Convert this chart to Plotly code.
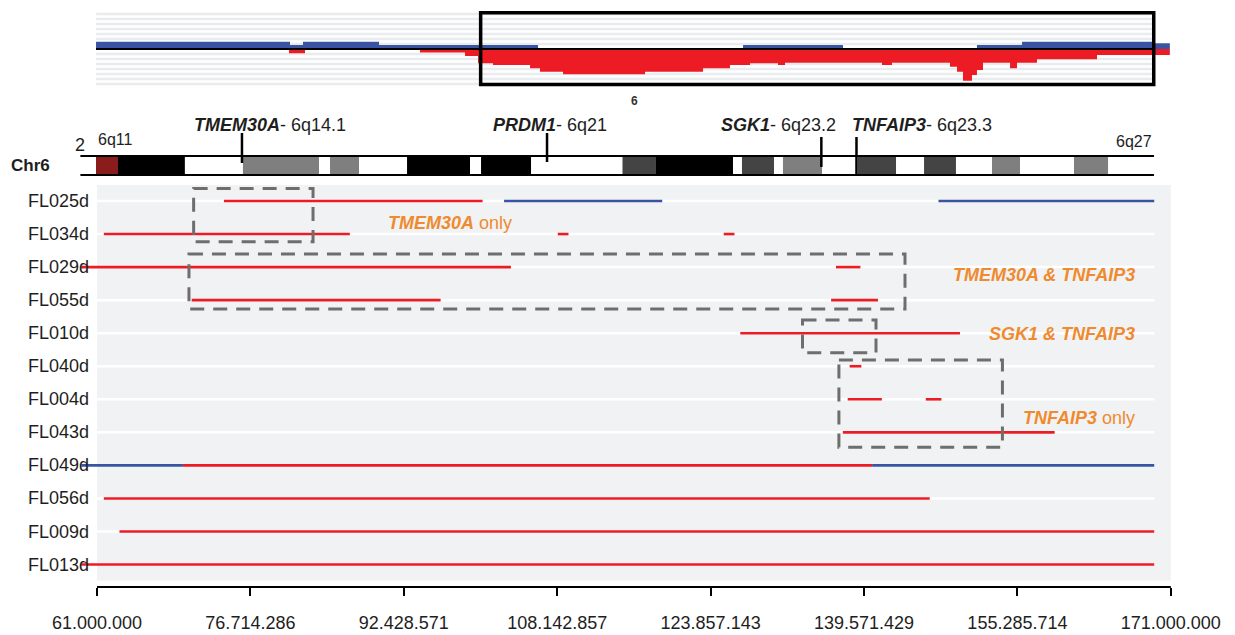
import plotly.graph_objects as go

W, H = 1235, 635

# ---------------- data ----------------
tick_vals = [61.0, 76.714286, 92.428571, 108.142857, 123.857143, 139.571429, 155.285714, 171.0]
tick_text = ["61.000.000", "76.714.286", "92.428.571", "108.142.857",
             "123.857.143", "139.571.429", "155.285.714", "171.000.000"]

samples = ["FL025d", "FL034d", "FL029d", "FL055d", "FL010d", "FL040d",
           "FL004d", "FL043d", "FL049d", "FL056d", "FL009d", "FL013d"]

seg_sample = ["FL025d", "FL025d", "FL025d",
              "FL034d", "FL034d", "FL034d",
              "FL029d", "FL029d",
              "FL055d", "FL055d",
              "FL010d",
              "FL040d",
              "FL004d", "FL004d",
              "FL043d",
              "FL049d", "FL049d", "FL049d",
              "FL056d",
              "FL009d",
              "FL013d"]
seg_start = [74.0, 102.7, 147.2,
             61.7, 108.2, 125.2,
             59.4, 136.7,
             70.7, 136.2,
             126.9,
             138.1,
             137.9, 145.9,
             137.4,
             59.4, 69.8, 140.4,
             61.7,
             63.3,
             59.4]
seg_end = [100.5, 118.9, 169.3,
           86.9, 109.3, 126.3,
           103.4, 139.2,
           96.2, 141.0,
           149.4,
           139.3,
           141.4, 147.5,
           159.1,
           69.8, 140.4, 169.3,
           146.3,
           169.3,
           169.3]
seg_kind = ["loss", "gain", "gain",
            "loss", "loss", "loss",
            "loss", "loss",
            "loss", "loss",
            "loss",
            "loss",
            "loss", "loss",
            "loss",
            "gain", "loss", "gain",
            "loss",
            "loss",
            "loss"]

# aggregated copy-number profile (top panel), step starts and heights
cn_gain_x = [60.9, 80.77, 82.1, 89.89, 106.18, 127.18, 137.42, 151.14, 155.76, 169.17]
cn_gain_v = [7.3, 4.0, 7.3, 4.0, 0.0, 4.0, 0.0, 4.0, 7.3, 5.7]
cn_loss_x = [60.9, 80.67, 82.31, 94.09, 98.70, 100.03, 101.57, 105.36, 106.38, 108.74,
             117.14, 123.08, 125.84, 127.89, 130.76, 131.48, 141.41, 142.44, 148.38,
             149.10, 149.71, 150.63, 151.14, 151.76, 154.53, 155.24, 157.29, 163.44]
cn_loss_v = [0.0, -4.3, 0.0, -3.5, -7.0, -14.3, -16.0, -19.3, -22.7, -25.3,
             -22.7, -19.3, -16.0, -14.3, -16.0, -13.7, -16.0, -13.7, -17.7,
             -22.7, -31.7, -26.0, -21.0, -13.7, -19.3, -13.7, -10.3, -6.0]
cn_end = 170.9

# ideogram bands (Mb)
chr_start, chr_end = 59.3, 169.28
band_start = [60.9, 63.15, 75.95, 84.87, 92.76, 100.34, 114.83, 118.26, 127.07,
              131.27, 138.95, 145.72, 152.68, 161.08]
band_end = [63.15, 70.0, 83.74, 87.84, 99.21, 105.46, 118.26, 126.15, 130.35,
            135.27, 142.85, 148.99, 155.55, 164.57]
band_stain = ["acen", "gpos100", "gpos50", "gpos50", "gpos100", "gpos100", "gpos75",
              "gpos100", "gpos75", "gpos50", "gpos75", "gpos75", "gpos50", "gpos50"]

gene_names = ["TMEM30A", "PRDM1", "SGK1", "TNFAIP3"]
gene_bands = ["6q14.1", "6q21", "6q23.2", "6q23.3"]
gene_pos = [75.85, 107.1, 135.2, 138.8]
gene_label_pos = [78.7, 107.4, 130.8, 145.5]

# highlighted groups (x in Mb, y in row units)
box_x0 = [70.9, 70.42, 133.27, 137.0]
box_x1 = [83.13, 143.77, 140.8, 153.75]
box_y0 = [-0.38, 1.60, 3.60, 4.81]
box_y1 = [1.23, 3.27, 4.59, 7.45]
group_text = ["<b><i>TMEM30A</i></b> only", "<b><i>TMEM30A &amp; TNFAIP3</i></b>",
              "<b><i>SGK1 &amp; TNFAIP3</i></b>", "<b><i>TNFAIP3</i></b> only"]
group_x = [97.2, 167.5, 167.5, 167.5]
group_y = [0.67, 2.24, 4.01, 6.57]
group_anchor = ["center", "right", "right", "right"]

# ---------------- styling ----------------
RED = "#ed1c24"
BLUE = "#3a54a4"
ORANGE = "#ef8a2e"
BOXGRAY = "#6e6e6e"
BG = "#f1f2f4"
FONT = "Liberation Sans, Arial, sans-serif"
TXT = "#1e1e1e"
stain_color = {"acen": "#8b1c1c", "gpos100": "#000000", "gpos75": "#444444", "gpos50": "#7f7f7f"}


def py(px):
    return 1 - px / H


# pixel mapping: 61 Mb at x=97px, 9.762 px per Mb
X0_PX, X1_PX = 75, 1175
PX_PER_MB = 9.762
xr = [61 + (X0_PX - 97) / PX_PER_MB, 61 + (X1_PX - 97) / PX_PER_MB]

ROW0, ROWSTEP = 201, 33.05
Y_TOP_PX, Y_BOT_PX = 185, 587
yr = [(Y_BOT_PX - ROW0) / ROWSTEP, (Y_TOP_PX - ROW0) / ROWSTEP]

fig = go.Figure()

# main segments
for kind, col in (("loss", RED), ("gain", BLUE)):
    xs, ys = [], []
    for s, a, b, k in zip(seg_sample, seg_start, seg_end, seg_kind):
        if k != kind:
            continue
        r = samples.index(s)
        xs += [a, b, None]
        ys += [r, r, None]
    fig.add_trace(go.Scatter(x=xs, y=ys, mode="lines", line=dict(color=col, width=2.6),
                             hoverinfo="skip", showlegend=False, xaxis="x", yaxis="y"))

# top panel profile
gx = cn_gain_x + [cn_end]
gv = cn_gain_v + [cn_gain_v[-1]]
lx = cn_loss_x + [cn_end]
lv = cn_loss_v + [cn_loss_v[-1]]
fig.add_trace(go.Scatter(x=gx, y=gv, mode="lines", line=dict(shape="hv", width=0, color=BLUE),
                         fill="tozeroy", fillcolor=BLUE, hoverinfo="skip", showlegend=False,
                         xaxis="x2", yaxis="y2"))
fig.add_trace(go.Scatter(x=lx, y=lv, mode="lines", line=dict(shape="hv", width=0, color=RED),
                         fill="tozeroy", fillcolor=RED, hoverinfo="skip", showlegend=False,
                         xaxis="x2", yaxis="y2"))

shapes = []
# main background
shapes.append(dict(type="rect", xref="x", yref="y", x0=61, x1=171, y0=-0.485, y1=11.485,
                   fillcolor=BG, line=dict(width=0), layer="below"))
for i in range(len(samples)):
    shapes.append(dict(type="line", xref="x", yref="y", x0=61, x1=169.3, y0=i, y1=i,
                       line=dict(color="white", width=2.5), layer="below"))
# axis line
shapes.append(dict(type="line", xref="x", yref="paper", x0=61, x1=171, y0=py(587), y1=py(587),
                   line=dict(color="black", width=2)))
# dashed group boxes
for a, b, c, d in zip(box_x0, box_x1, box_y0, box_y1):
    shapes.append(dict(type="rect", xref="x", yref="y", x0=a, x1=b, y0=c, y1=d,
                       line=dict(color=BOXGRAY, width=3, dash="14px,9px")))

# top panel stripes, baseline, box
for k in range(-7, 8):
    if k == 0:
        continue
    shapes.append(dict(type="line", xref="x2", yref="y2", x0=60.9, x1=169.2, y0=5 * k, y1=5 * k,
                       line=dict(color="#e9ecef", width=2.5), layer="below"))
shapes.append(dict(type="line", xref="x2", yref="y2", x0=60.9, x1=169.2, y0=0, y1=0,
                   line=dict(color="black", width=2.2)))
shapes.append(dict(type="rect", xref="x2", yref="y2", x0=100.3, x1=169.25, y0=36.3, y1=-35.5,
                   line=dict(color="black", width=3.5)))

# ideogram
BAR_T, BAR_B = 156, 175
shapes.append(dict(type="rect", xref="x", yref="paper", x0=chr_start, x1=chr_end,
                   y0=py(BAR_B), y1=py(BAR_T), fillcolor="white", line=dict(width=0)))
for a, b, s in zip(band_start, band_end, band_stain):
    shapes.append(dict(type="rect", xref="x", yref="paper", x0=a, x1=b,
                       y0=py(BAR_B), y1=py(BAR_T), fillcolor=stain_color[s], line=dict(width=0)))
for yy in (BAR_T, BAR_B):
    shapes.append(dict(type="line", xref="x", yref="paper", x0=chr_start, x1=chr_end,
                       y0=py(yy), y1=py(yy), line=dict(color="black", width=2.2)))
marker_top = [133, 133, 137, 137]
marker_bot = [163, 162, 167, 175]
for g, t, b in zip(gene_pos, marker_top, marker_bot):
    shapes.append(dict(type="line", xref="x", yref="paper", x0=g, x1=g, y0=py(b), y1=py(t),
                       line=dict(color="black", width=2.5)))

annotations = []
for i, s in enumerate(samples):
    annotations.append(dict(text=s, x=61, xref="x", y=i, yref="y", xanchor="right", xshift=-6,
                            showarrow=False, font=dict(family=FONT, size=18, color=TXT)))
for t, x, y, anc in zip(group_text, group_x, group_y, group_anchor):
    annotations.append(dict(text=t, x=x, xref="x", y=y, yref="y", xanchor=anc, showarrow=False,
                            font=dict(family=FONT, size=18, color=ORANGE)))
for n, b, x in zip(gene_names, gene_bands, gene_label_pos):
    annotations.append(dict(text=f"<b><i>{n}</i></b>- {b}", x=x, xref="x", y=py(125), yref="paper",
                            xanchor="center", yanchor="middle", showarrow=False,
                            font=dict(family=FONT, size=18, color=TXT)))
annotations += [
    dict(text="<b>Chr6</b>", x=52 / W, xref="paper", y=py(165), yref="paper", xanchor="right",
         yanchor="middle", showarrow=False, font=dict(family=FONT, size=17, color=TXT)),
    dict(text="2", x=80 / W, xref="paper", y=py(145), yref="paper", xanchor="center",
         yanchor="middle", showarrow=False, font=dict(family=FONT, size=18, color=TXT)),
    dict(text="6q11", x=96 / W, xref="paper", y=py(139), yref="paper", xanchor="left",
         yanchor="middle", showarrow=False, font=dict(family=FONT, size=16, color=TXT)),
    dict(text="6q27", x=1154 / W, xref="paper", y=py(141), yref="paper", xanchor="right",
         yanchor="middle", showarrow=False, font=dict(family=FONT, size=16, color=TXT)),
    dict(text="<b>6</b>", x=634 / W, xref="paper", y=py(101), yref="paper", xanchor="center",
         yanchor="middle", showarrow=False, font=dict(family=FONT, size=12, color="#333333")),
]

dom_x = [X0_PX / W, X1_PX / W]
fig.update_layout(
    width=W, height=H, margin=dict(l=0, r=0, t=0, b=0, pad=0, autoexpand=False),
    paper_bgcolor="white", plot_bgcolor="rgba(0,0,0,0)",
    showlegend=False,
    xaxis=dict(domain=dom_x, range=xr, tickvals=tick_vals, ticktext=tick_text,
               ticks="outside", ticklen=8, tickwidth=2, tickcolor="black", automargin=False,
               showgrid=False, zeroline=False, showline=False, ticklabelstandoff=11,
               tickfont=dict(family=FONT, size=18, color=TXT), fixedrange=True),
    yaxis=dict(domain=[py(Y_BOT_PX), py(Y_TOP_PX)], range=yr, visible=False, automargin=False,
               showgrid=False, zeroline=False, fixedrange=True),
    xaxis2=dict(domain=dom_x, range=xr, visible=False, anchor="y2", automargin=False,
                fixedrange=True),
    yaxis2=dict(domain=[py(88), py(10)], range=[-39, 39], visible=False, anchor="x2",
                automargin=False, showgrid=False, zeroline=False, fixedrange=True),
    shapes=shapes, annotations=annotations,
)

fig.write_html("out.html", config={"displayModeBar": False},
               post_script="document.body.style.margin='0px';document.body.style.overflow='hidden';")
